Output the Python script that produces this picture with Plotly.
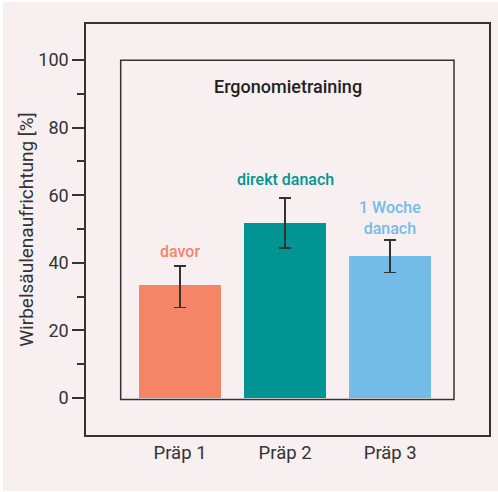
import plotly.graph_objects as go

categories = ["Präp 1", "Präp 2", "Präp 3"]
values = [33.4, 51.7, 41.9]
err_plus = [5.6, 7.5, 4.8]
err_minus = [6.6, 7.3, 4.8]
colors = ["#f58567", "#009593", "#74bce8"]
labels = ["davor", "direkt danach", "1 Woche<br>danach"]
label_y = [43.3, 64.6, 53.4]
y_tickvals = [0, 20, 40, 60, 80, 100]
title_text = "Ergonomietraining"

BG = "#f7eff0"
DARK = "#333333"
FONT = "Roboto"

xpos = list(range(len(categories)))

fig = go.Figure()
fig.add_trace(go.Bar(
    x=xpos, y=values, width=0.78,
    marker=dict(color=colors, line=dict(width=0)),
    error_y=dict(type="data", symmetric=False, array=err_plus, arrayminus=err_minus,
                 color=DARK, thickness=1.5, width=6),
    showlegend=False,
))

# inner frame
fig.add_shape(type="rect", xref="x", yref="y", x0=-0.565, x1=2.607, y0=-0.5, y1=100,
              line=dict(color=DARK, width=1.5), fillcolor="rgba(0,0,0,0)", layer="above")

for i, (lab, ly, c) in enumerate(zip(labels, label_y, colors)):
    fig.add_annotation(x=i, y=ly, text=lab, showarrow=False, xref="x", yref="y",
                       font=dict(family=FONT, size=16, color=c, weight=500))

fig.add_annotation(x=1.024, y=92.3, text=title_text, showarrow=False, xref="x", yref="y",
                   font=dict(family=FONT, size=18, color="#222222", weight=500))

fig.update_layout(
    width=495, height=489,
    margin=dict(l=83, r=9, t=22, b=56, pad=0),
    paper_bgcolor=BG, plot_bgcolor=BG,
    font=dict(family=FONT, size=18, color=DARK),
    bargap=0,
)
fig.update_xaxes(
    range=[-0.895, 2.94], tickvals=xpos, ticktext=categories, automargin=False,
    showline=True, mirror=True, linecolor=DARK, linewidth=1.5,
    ticks="", showgrid=False, zeroline=False,
    tickfont=dict(family=FONT, size=18.5, color=DARK), ticklabelstandoff=0,
)
fig.update_yaxes(
    range=[-11, 110.7], tickvals=y_tickvals, automargin=False,
    showline=True, mirror=True, linecolor=DARK, linewidth=1.5,
    ticks="outside", ticklen=12, tickwidth=1.5, tickcolor=DARK,
    minor=dict(tickvals=[10, 30, 50, 70, 90], ticks="outside", ticklen=7, tickwidth=1.5, tickcolor=DARK),
    showgrid=False, zeroline=False,
    tickfont=dict(family=FONT, size=18, color=DARK),
    title=dict(text="Wirbelsäulenaufrichtung [%]", font=dict(family=FONT, size=19, color=DARK), standoff=0),
)

fig.write_html("out.html", post_script="document.body.style.margin='2px 0 0 3px';")
